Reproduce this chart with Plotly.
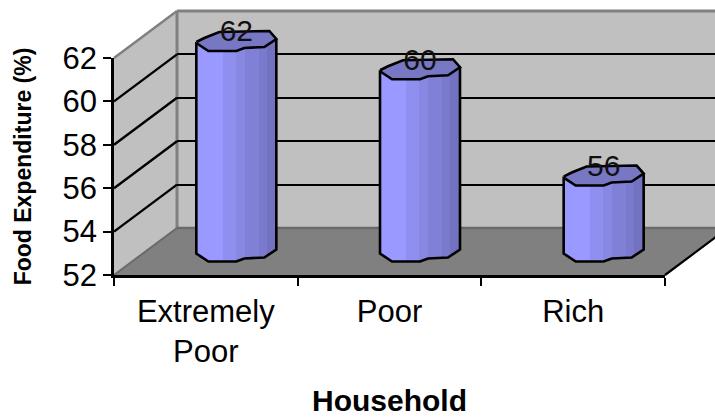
import numpy as np
import plotly.graph_objects as go

# ---- data ----
categories = ["Extremely<br>Poor", "Poor", "Rich"]
food_expenditure = [61.7, 60.4, 55.5]
y_ticks = [52, 54, 56, 58, 60, 62]

# ---- geometry (pixels), styling ----
W, H = 715, 417
FRONT_L, FRONT_R, FRONT_B = 114, 665, 275
DX, DY = 63, 47
PX_PER_UNIT = 21.7
PX_PER_CAT = (FRONT_R - FRONT_L) / 3
FONT = "Liberation Sans"

# Rough outline of a cylinder's cross-section, px from its centre
top_half = [(-40, 1), (-32, -3), (-17, -9), (33, -10), (40, -2)]
low_half = [(40, -2), (28, 6), (8, 7), (0, 10), (-28, 10), (-40, 2)]
strips = [(-40, -14, "#9999ff"), (-14, -1, "#8f8fef"), (-1, 8, "#8888e2"),
          (8, 22, "#8080d6"), (22, 30, "#7a7acc"), (30, 40, "#7272c0")]

def px(x):
    return x / W

def py(y):
    return 1 - y / H

def dom_x(left, right):
    return [px(left), min(px(right), 1)]

def dom_y(bottom, top):
    return [py(bottom), py(top)]

fig = go.Figure()

# Bars live on a plane half-way into the box (x3/y3)
mid_dx, mid_dy = DX / 2 - 1, DY / 2
low_x = np.array([p[0] for p in low_half][::-1], float)
low_y = np.array([p[1] for p in low_half][::-1], float)
base_value = y_ticks[0]
n = np.arange(len(categories))
vals = np.array(food_expenditure)

for a, b, color in strips:
    sub = np.arange(a, b + 1, 2.0)
    if sub[-1] < b:
        sub = np.append(sub, b)
    for s0, s1 in zip(sub[:-1], sub[1:]):
        mid = (s0 + s1) / 2
        drop = np.interp(mid, low_x, low_y) / PX_PER_UNIT
        fig.add_bar(
            x=n + mid / PX_PER_CAT, y=vals - (base_value - drop),
            base=[base_value - drop] * len(n),
            width=(s1 - s0 + 0.6) / PX_PER_CAT,
            marker=dict(color=color, line=dict(width=0)),
            xaxis="x3", yaxis="y3", showlegend=False, hoverinfo="skip",
        )

# Side / bottom outline of each cylinder
ox, oy = [], []
for i, v in enumerate(food_expenditure):
    pts = [(-40, v - 1 / PX_PER_UNIT)]
    pts += [(p[0], base_value - p[1] / PX_PER_UNIT) for p in low_half[::-1]]
    pts += [(40, v + 2 / PX_PER_UNIT)]
    ox += [i + p[0] / PX_PER_CAT for p in pts] + [None]
    oy += [p[1] for p in pts] + [None]
fig.add_scatter(x=ox, y=oy, mode="lines", line=dict(color="black", width=2.6),
                xaxis="x3", yaxis="y3", showlegend=False, hoverinfo="skip")

# Top caps
cx, cy = [], []
for i, v in enumerate(food_expenditure):
    pts = top_half + low_half[1:]
    cx += [i + p[0] / PX_PER_CAT for p in pts] + [None]
    cy += [v - p[1] / PX_PER_UNIT for p in pts] + [None]
fig.add_scatter(x=cx, y=cy, mode="lines", fill="toself", fillcolor="#7777c4",
                line=dict(color="black", width=2.6),
                xaxis="x3", yaxis="y3", showlegend=False, hoverinfo="skip")

# Data labels, rounded the way the chart shows them
fig.add_scatter(x=n, y=vals + 7 / PX_PER_UNIT, mode="text",
                text=[f"{v:.0f}" for v in food_expenditure],
                textposition="middle center",
                textfont=dict(family=FONT, size=30, color="#111111"),
                xaxis="x3", yaxis="y3", showlegend=False, hoverinfo="skip")

# Dummy trace to bring the front axes and back-wall axes into being
fig.add_scatter(x=[0], y=[52], mode="none", xaxis="x2", yaxis="y2",
                showlegend=False, hoverinfo="skip")
fig.add_scatter(x=[0], y=[52], mode="none", xaxis="x", yaxis="y",
                showlegend=False, hoverinfo="skip")

# ---- walls and floor ----
def y_front(v):
    return FRONT_B - (v - y_ticks[0]) * PX_PER_UNIT

def poly(points):
    return "M " + " L ".join(f"{px(x)},{py(y)}" for x, y in points) + " Z"

top_v, bot_v = y_ticks[-1], y_ticks[0]
BL, BB, BT = FRONT_L + DX, y_front(bot_v) - DY, y_front(top_v) - DY
shapes = [
    # back wall
    dict(type="path", path=poly([(BL, BT), (W + 20, BT), (W + 20, BB), (BL, BB)]),
         fillcolor="#c0c0c0", line=dict(width=0)),
    # side wall
    dict(type="path", path=poly([(FRONT_L, y_front(top_v)), (BL, BT), (BL, BB),
                                 (FRONT_L, FRONT_B)]),
         fillcolor="#c0c0c0", line=dict(width=0)),
    # floor
    dict(type="path", path=poly([(FRONT_L, FRONT_B), (FRONT_R, FRONT_B),
                                 (FRONT_R + DX, BB), (BL, BB)]),
         fillcolor="#808080", line=dict(width=0)),
]
for p0, p1, c, w in [((FRONT_L, y_front(top_v)), (BL, BT), "#808080", 2.5),
                     ((BL, BT), (W + 5, BT), "#808080", 3),
                     ((BL, BT), (BL, BB), "#808080", 3),
                     ((BL, BB), (W + 5, BB), "#6a6a6a", 2.5),
                     ((FRONT_L, FRONT_B), (BL, BB), "#6a6a6a", 2),
                     ((FRONT_R, FRONT_B), (FRONT_R + DX, BB), "black", 2.2)]:
    shapes.append(dict(type="line", x0=px(p0[0]), y0=py(p0[1]), x1=px(p1[0]), y1=py(p1[1]),
                       line=dict(color=c, width=w)))
for t in y_ticks[1:-1]:
    shapes.append(dict(type="line", x0=px(FRONT_L), y0=py(y_front(t)), x1=px(BL),
                       y1=py(y_front(t) - DY), line=dict(color="black", width=2.4)))
for s in shapes:
    s.update(xref="paper", yref="paper", layer="below")

# ---- layout ----
tick_font = dict(family=FONT, size=31, color="black")
n_cat = len(categories)
boundaries = [i - 0.5 for i in range(n_cat + 1)]
low3, high3 = 51.0, 63.5

fig.update_layout(
    width=W, height=H, margin=dict(l=0, r=0, t=0, b=0, autoexpand=False),
    paper_bgcolor="white", plot_bgcolor="rgba(0,0,0,0)",
    barmode="overlay", bargap=0, showlegend=False, shapes=shapes,
    # back wall gridlines
    xaxis=dict(domain=dom_x(BL, W), range=[0, 1], visible=False),
    yaxis=dict(domain=dom_y(BB, BT), range=[bot_v, top_v], showline=False, zeroline=False,
               showticklabels=False, ticks="", tickvals=y_ticks[1:-1], showgrid=True,
               gridcolor="black", gridwidth=2, anchor="x"),
    # front axes
    xaxis2=dict(domain=dom_x(FRONT_L, FRONT_R), range=[-0.5, n_cat - 0.5], anchor="y2",
                tickmode="array", tickvals=list(range(n_cat)), ticktext=categories,
                ticks="", tickfont=tick_font, showgrid=False, zeroline=False,
                showline=True, linecolor="black", linewidth=2.6, automargin=False,
                ticklabelstandoff=7,
                minor=dict(tickmode="array", tickvals=boundaries, ticks="outside",
                           ticklen=8, tickwidth=2.4, tickcolor="black", showgrid=False),
                title=dict(text="<b>Household</b>", standoff=38,
                           font=dict(family=FONT, size=30, color="black"))),
    yaxis2=dict(domain=dom_y(FRONT_B, y_front(top_v)), range=[bot_v, top_v], anchor="x2",
                tickmode="array", tickvals=y_ticks, ticks="outside", ticklen=8, tickwidth=2.4,
                tickcolor="black", tickfont=tick_font, showgrid=False, zeroline=False,
                showline=True, linecolor="black", linewidth=2.6, automargin=False,
                title=dict(text="<b>Food Expenditure (%)</b>", standoff=25,
                           font=dict(family=FONT, size=23, color="black"))),
    # cylinders
    xaxis3=dict(domain=dom_x(FRONT_L + mid_dx, FRONT_R + mid_dx), range=[-0.5, n_cat - 0.5],
                visible=False, anchor="y3"),
    yaxis3=dict(domain=dom_y(FRONT_B - mid_dy + (bot_v - low3) * PX_PER_UNIT,
                             FRONT_B - mid_dy - (high3 - bot_v) * PX_PER_UNIT),
                range=[low3, high3], visible=False, anchor="x3"),
)

fig.write_html("out.html", config={"displayModeBar": False},
               post_script="document.body.style.margin='0';")
